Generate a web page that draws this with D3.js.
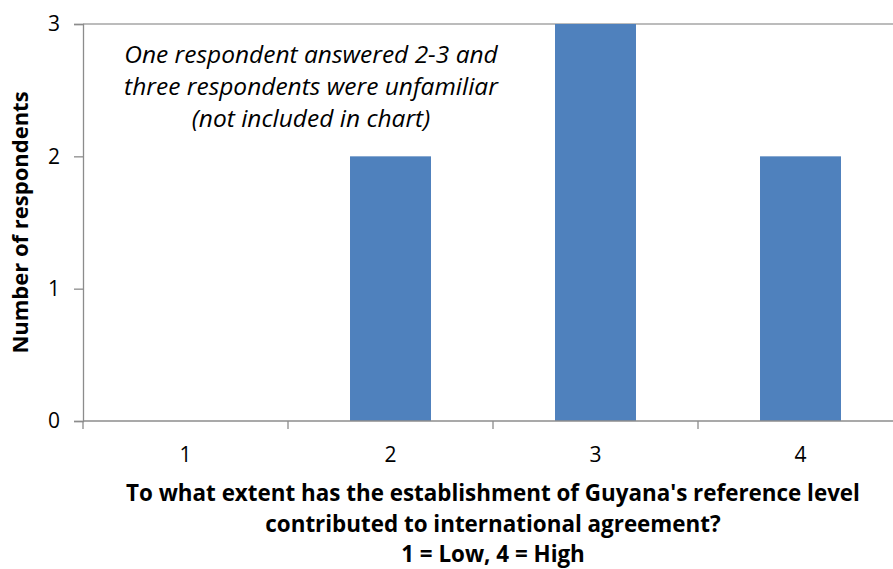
<!DOCTYPE html>
<html>
<head>
<meta charset="utf-8">
<script src="https://cdn.jsdelivr.net/npm/d3@7"></script>
<style>
  body { margin: 0; background: #fff; }
  text { font-family: "Open Sans", Lato, sans-serif; fill: #000; }
</style>
</head>
<body>
<div id="chart"></div>
<script>
// data
const categories = ["1", "2", "3", "4"];
const counts = [0, 2, 3, 2];
const yTicks = [0, 1, 2, 3];
const noteLines = ["One respondent answered 2-3 and", "three respondents were unfamiliar", "(not included in chart)"];
const titleLines = ["To what extent has the establishment of Guyana's reference level", "contributed to international agreement?", "1 = Low, 4 = High"];

let width = 893, height = 569;
let svg = d3.select("#chart")
    .append("svg")
    .attr("width", width)
    .attr("height", height);

let plotLeft = 83, plotTop = 24, plotBottom = 421;

let x = d3.scaleBand()
    .domain(categories)
    .range([plotLeft, plotLeft + 820])
    .padding(0);
let y = d3.scaleLinear()
    .domain([0, 3])
    .range([plotBottom, plotTop]);

let barW = x.bandwidth() * 0.395;

// top line at max value
svg.append("line")
    .attr("x1", plotLeft).attr("x2", width)
    .attr("y1", y(3)).attr("y2", y(3))
    .attr("stroke", "#a6a6a6").attr("stroke-width", 1.3);

// bars
svg.selectAll(".bar")
    .data(counts)
    .enter().append("rect")
    .attr("class", "bar")
    .attr("x", (d, i) => x(categories[i]) + x.bandwidth() / 2 - barW / 2)
    .attr("width", barW)
    .attr("y", d => y(d))
    .attr("height", d => y(0) - y(d))
    .attr("fill", "#4F81BD");

// y axis
let yAxis = svg.append("g")
    .attr("transform", `translate(${plotLeft},0)`)
    .call(d3.axisLeft(y).tickValues(yTicks).tickFormat(d3.format("d")).tickSize(9).tickPadding(14));
yAxis.select(".domain").attr("stroke", "#8c8c8c").attr("stroke-width", 1.3);
yAxis.selectAll(".tick line").attr("stroke", "#8c8c8c").attr("stroke-width", 1.3);
yAxis.selectAll(".tick text").style("font-size", "21px").style("font-family", "'Open Sans', sans-serif").attr("fill", "#000");

// x axis (ticks between categories)
let xAxisG = svg.append("g");
xAxisG.append("line")
    .attr("x1", plotLeft).attr("x2", width)
    .attr("y1", plotBottom).attr("y2", plotBottom)
    .attr("stroke", "#8c8c8c").attr("stroke-width", 1.3);
xAxisG.selectAll(".xtick")
    .data(categories)
    .enter().append("line")
    .attr("x1", d => x(d)).attr("x2", d => x(d))
    .attr("y1", plotBottom).attr("y2", plotBottom + 8)
    .attr("stroke", "#8c8c8c").attr("stroke-width", 1.3);
xAxisG.selectAll(".xlabel")
    .data(categories)
    .enter().append("text")
    .attr("x", d => x(d) + x.bandwidth() / 2)
    .attr("y", 462)
    .attr("text-anchor", "middle")
    .style("font-size", "21px")
    .text(d => d);

// y axis title
svg.append("text")
    .attr("transform", `translate(28,${(plotTop + plotBottom) / 2}) rotate(-90)`)
    .attr("text-anchor", "middle")
    .style("font-size", "22px")
    .style("font-weight", "bold")
    .text("Number of respondents");

// note
svg.selectAll(".note")
    .data(noteLines)
    .enter().append("text")
    .attr("x", 311)
    .attr("y", (d, i) => 63 + i * 32)
    .attr("text-anchor", "middle")
    .style("font-size", "24.5px")
    .style("font-style", "italic")
    .text(d => d);

// x axis title
svg.selectAll(".xtitle")
    .data(titleLines)
    .enter().append("text")
    .attr("x", 493)
    .attr("y", (d, i) => 501 + i * 30.5)
    .attr("text-anchor", "middle")
    .style("font-size", "22.4px")
    .style("font-weight", "bold")
    .text(d => d);
</script>
</body>
</html>
